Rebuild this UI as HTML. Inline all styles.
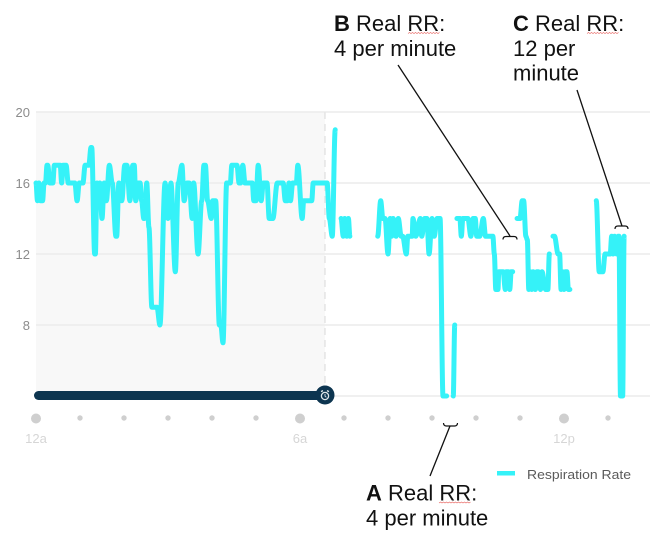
<!DOCTYPE html>
<html lang="en">
<head>
<meta charset="utf-8">
<title>Respiration Rate Chart</title>
<style>
html,body{margin:0;padding:0;background:#fff;width:650px;height:555px;overflow:hidden}
svg{display:block}
text{font-family:"Liberation Sans",sans-serif}
</style>
</head>
<body>
<svg id="chart" xmlns="http://www.w3.org/2000/svg" width="650" height="555" viewBox="0 0 650 555">
  <rect width="650" height="555" fill="#ffffff"/>
  <g id="plot-bg"></g>
  <g id="grid"></g>
  <g id="y-axis"></g>
  <g id="series"></g>
  <g id="x-axis"></g>

  <g>
    <rect id="slider-bar" x="34" y="391" width="291" height="9" rx="4.5" fill="#0d3550"/>
    <circle id="slider-knob" cx="325" cy="395" r="9.5" fill="#0d3550"/>
    <g fill="none" stroke="#dfe6ea">
      <circle cx="325" cy="396" r="3.6" stroke-width="1.3"/>
      <path d="M325 394v2.2l1.4 1" stroke-width="0.9"/>
      <path d="M321 391.6l2 -1M329 391.6l-2 -1" stroke-width="1.4"/>
    </g>
  </g>

  <g>
    <rect x="497" y="471" width="18" height="4.5" fill="#35f2f8"/>
    <text x="527" y="479" font-size="12.5" fill="#5a5a5a" textLength="104" lengthAdjust="spacingAndGlyphs">Respiration Rate</text>
  </g>

  <g id="annotations" fill="none" stroke="#111" stroke-width="1.3">
    <path d="M443.500 423c0 2 1 3 3 3h8c2 0 3-1 3-3" stroke-width="1.2"/>
    <path d="M450 426L430 476"/>
    <path d="M503 239.500c0-2 1-3 3-3h8c2 0 3 1 3 3" stroke-width="1.2"/>
    <path d="M398 65L510 236"/>
    <path d="M615 229c0-2 1-3 3-3h7c2 0 3 1 3 3" stroke-width="1.2"/>
    <path d="M577 90L622 226"/>
  </g>

  <g font-size="22" fill="#111">
    <text x="334" y="31"><tspan font-weight="bold">B</tspan> Real RR:</text>
    <text x="334" y="56">4 per minute</text>
  </g>
  <g font-size="22" fill="#111">
    <text x="513" y="31"><tspan font-weight="bold">C</tspan> Real RR:</text>
    <text x="513" y="56">12 per</text>
    <text x="513" y="80.500">minute</text>
  </g>
  <g font-size="22" fill="#111">
    <text x="366" y="500.500"><tspan font-weight="bold">A</tspan> Real RR:</text>
    <text x="366" y="525.500">4 per minute</text>
  </g>
  <g id="squiggles" fill="none" stroke="#e8635f" stroke-width="0.7"></g>
</svg>

<script>
const yTickLabels = [20, 16, 12, 8];
const yBaseline = 4;
const xMajorTicks = [0, 360, 720];
const xMajorLabels = ['12a', '6a', '12p'];
const xMinorTicks = [60, 120, 180, 240, 300, 420, 480, 540, 600, 660, 780];
const nowMinutes = 394;

/* minutes since midnight; null rate marks a gap in the recording */
const sampleMinutes = [
  0,2,4,6,9,11,13,15,16,19,23,25,33,35,37,41,44,53,56,59,
  64,67,72,75,76,80,81,83,85,87,90,93,96,100,104,109,110,113,117,121,
  124,128,132,134,136,139,142,144,147,148,151,154,158,165,169,176,180,184,190,194,
  199,202,206,209,213,215,221,226,229,231,234,239,241,245,250,252,255,260,265,267,
  274,277,279,282,285,295,297,300,303,307,310,315,318,323,329,337,340,343,345,347,
  350,355,357,363,365,376,378,397,400,404,408,412,
  416,419,421,424,426,428,445,
  466,470,473,476,480,483,485,487,491,494,498,500,505,507,513,514,518,524,526,530,
  533,536,540,543,547,551,555,560,565,
  569,571,572,
  574,578,580,582,589,593,596,599,601,605,610,613,623,625,627,630,631,637,640,641,
  644,646,648,650,653,
  656,660,663,665,668,670,672,674,676,678,681,683,685,688,690,695,698,700,702,
  705,707,712,714,716,718,720,722,724,726,728,745,
  764,768,770,773,776,783,785,787,789,792,794,795,797,800,802
];
const respirationRates = [
  16,15,16,15,15,16,16,17,17,16,16,17,17,16,17,17,16,16,15,16,
  16,17,17,18,18,12,12,16,15,16,14,16,15,17,16,13,13,16,15,17,
  17,15,17,17,15,16,16,15,14,14,16,13.5,9,9,8,16,14,16,11,16,
  17,15,16,16,14,16,12,15,17,17,15,14,15,15,8,8,7,16,16,17,
  17,16,16,17,16,16,15,15,17,15,16,16,14,14,16,16,15,15,16,15,
  16,16,17,14,15,15,16,16,14,13,19,null,
  14,13,14,13,14,13,null,
  13,15,14,14,12,14,13,14,13,14,13,13,12,13,13,14,13,14,13,14,
  14,12,14,13,14,14,4,4,null,
  4,8,null,
  14,14,13,14,14,13,14,14,13,13,14,13,13,12,10,10,11,11,10,11,
  11,10,11,11,null,
  14,14,15,15,13,12.8,10,11,10,11,10,11,11,10,11,10,10,12,null,
  13,13,12,12,10,11,10,11,11,10,10,null,
  15,11,11,11,12,12,13,12,13,12,13,13,4,4,13
];

const SVG_NS = 'http://www.w3.org/2000/svg';
const plotLeft = 36, plotRight = 650, plotTop = 112, plotBottom = 396;
const pxPerMinute = 44 / 60;
const pxPerBreath = (plotBottom - plotTop) / 16;
function xScale(m) { return plotLeft + m * pxPerMinute; }
function yScale(v) { return plotBottom - (v - yBaseline) * pxPerBreath; }
function make(tag, attrs, parent) {
  const el = document.createElementNS(SVG_NS, tag);
  for (const k in attrs) el.setAttribute(k, attrs[k]);
  parent.appendChild(el);
  return el;
}

const plotBg = document.getElementById('plot-bg');
const shade = make('rect', {x: plotLeft, y: plotTop, width: xScale(nowMinutes) - plotLeft, height: plotBottom - plotTop, fill: '#f8f8f8'}, plotBg);



const grid = document.getElementById('grid');
const yAxis = document.getElementById('y-axis');
yTickLabels.concat([yBaseline]).forEach(function (v) {
  const line = make('line', {x1: plotLeft, x2: plotRight, y1: yScale(v), y2: yScale(v), stroke: '#ececec', 'stroke-width': 1.6}, grid);
  
  
});
yTickLabels.forEach(function (v) {
  const t = make('text', {x: 30, y: yScale(v) + 5, 'text-anchor': 'end', 'font-size': 13, fill: '#8c8c8c'}, yAxis);
  
  
  t.textContent = v;
});

const nowLine = make('line', {x1: xScale(nowMinutes), x2: xScale(nowMinutes), y1: plotTop, y2: plotBottom, stroke: '#e6e6e6', 'stroke-width': 1.6, 'stroke-dasharray': '7 5'}, grid);



const series = document.getElementById('series');
let d = '', pen = false, px = 0, py = 0;
sampleMinutes.forEach(function (m, i) {
  const v = respirationRates[i];
  if (v === null || v === undefined) { pen = false; return; }
  const x = xScale(m), y = yScale(v);
  if (pen) {
    const c = (x - px) * 0.35;
    d += 'C' + (px + c).toFixed(2) + ' ' + py.toFixed(2) + ' ' + (x - c).toFixed(2) + ' ' + y.toFixed(2) + ' ' + x.toFixed(2) + ' ' + y.toFixed(2);
  } else {
    d += 'M' + x.toFixed(2) + ' ' + y.toFixed(2);
  }
  px = x; py = y; pen = true;
});
const path = make('path', {d: d, fill: 'none', stroke: '#35f2f8', 'stroke-width': 5, 'stroke-linejoin': 'round', 'stroke-linecap': 'round'}, series);



const xAxis = document.getElementById('x-axis');
xMajorTicks.forEach(function (m, i) {
  const c = make('circle', {cx: xScale(m), cy: 418.5, r: 5, fill: '#cfcfcf'}, xAxis);
  
  
  const t = make('text', {x: xScale(m), y: 443, 'text-anchor': 'middle', 'font-size': 13, fill: '#d6d6d6'}, xAxis);
  
  
  t.textContent = xMajorLabels[i];
});
xMinorTicks.forEach(function (m) {
  const c = make('circle', {cx: xScale(m), cy: 418, r: 2.7, fill: '#cfcfcf'}, xAxis);
  
  
});

const squiggles = document.getElementById('squiggles');
function squiggle(x0, y0, w) {
  let s = 'M' + x0 + ' ' + y0;
  for (let i = 1.5, up = true; i <= w; i += 1.5, up = !up) {
    s += 'L' + (x0 + i) + ' ' + (y0 + (up ? -1 : 0));
  }
  const p = make('path', {d: s}, squiggles);
  
  
}
squiggle(408, 33.5, 32);
squiggle(587, 33.5, 32);
squiggle(439, 503, 32);
</script>
</body>
</html>
